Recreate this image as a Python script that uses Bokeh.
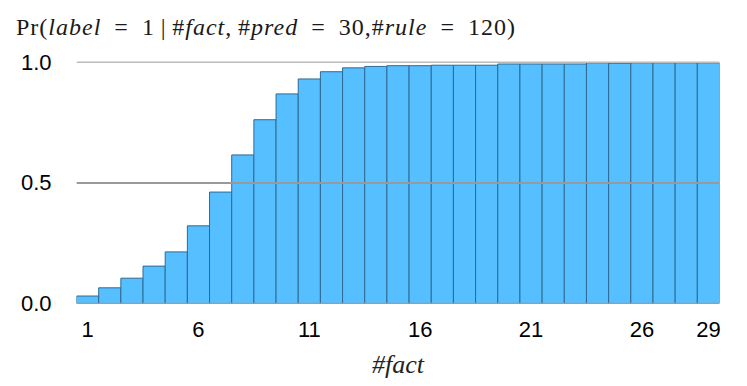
from bokeh.plotting import figure
from bokeh.layouts import column
from bokeh.models import Range1d, FixedTicker, Span, Div
from bokeh.embed import file_html
from bokeh.resources import INLINE

# ---- data ----
n_fact = list(range(1, 30))
prob = [0.031, 0.065, 0.105, 0.155, 0.214, 0.322, 0.462, 0.616, 0.762, 0.869,
        0.931, 0.961, 0.977, 0.983, 0.986, 0.986, 0.988, 0.988, 0.988, 0.993,
        0.993, 0.993, 0.993, 0.998, 0.996, 0.998, 0.998, 0.998, 0.998]
x_ticks = [1, 6, 11, 16, 21, 26, 29]
y_ticks = [0.0, 0.5, 1.0]
y_tick_labels = ["0.0", "0.5", "1.0"]
x_label = "#fact"
# title pieces: (text, italic?)
title_parts = [("Pr(", False), ("label", True), ("\u2002=\u2002", False), ("1", False),
               ("\u2009|\u2009", False), ("#", False), ("fact", True), (",\u2009", False),
               ("#", False), ("pred", True), ("\u2002=\u2002", False), ("30,", False),
               ("#", False), ("rule", True), ("\u2002=\u2002", False), ("120)", False)]

TOTAL_W = 739

title_html = "".join(("<i>%s</i>" % s) if it else s for s, it in title_parts)
title = Div(text=title_html, width=TOTAL_W, height=48, margin=(0, 0, 0, 0),
            styles={"font-family": "'Liberation Serif', serif", "font-size": "24px",
                    "line-height": "24px", "padding-top": "15px", "padding-left": "16px",
                    "white-space": "nowrap", "color": "#1a1a1a", "letter-spacing": "1px",
                    "box-sizing": "border-box"})

# main chart
p = figure(frame_width=643, frame_height=246, output_backend="svg", toolbar_location=None,
           x_range=Range1d(0.5, 29.5), y_range=Range1d(0, 1.02),
           min_border_left=76, min_border_top=9, min_border_right=20, min_border_bottom=40)
p.outline_line_color = None
p.background_fill_color = "white"
p.border_fill_color = "white"
p.xgrid.visible = False
p.ygrid.visible = False

p.vbar(x=n_fact, top=prob, width=1.0, bottom=0,
       fill_color="#56BFFF", line_color="#2E6A92", line_width=1)

for yv, col, w in [(0.0, "#999999", 1.5), (0.5, "#999999", 2), (1.0, "#bbbbbb", 1.5)]:
    p.add_layout(Span(location=yv, dimension="width", line_color=col, line_width=w, level="overlay"))

p.xaxis.ticker = FixedTicker(ticks=x_ticks)
p.yaxis.ticker = FixedTicker(ticks=y_ticks)
p.yaxis.major_label_overrides = {tk: lb for tk, lb in zip(y_ticks, y_tick_labels)}
for ax in (p.xaxis[0], p.yaxis[0]):
    ax.axis_line_color = None
    ax.major_tick_line_color = None
    ax.minor_tick_line_color = None
    ax.major_label_text_font = "Liberation Sans"
    ax.major_label_text_font_size = "22px"
    ax.major_label_text_color = "black"
p.yaxis.major_label_standoff = 19
p.xaxis.major_label_standoff = 12
p.xaxis.axis_label = x_label
p.xaxis.axis_label_text_font = "Liberation Serif"
p.xaxis.axis_label_text_font_style = "italic"
p.xaxis.axis_label_text_font_size = "26px"
p.xaxis.axis_label_text_color = "#222222"
p.xaxis.axis_label_standoff = 10

layout = column(title, p, spacing=0)
open("out.html", "w").write(file_html(layout, INLINE))
